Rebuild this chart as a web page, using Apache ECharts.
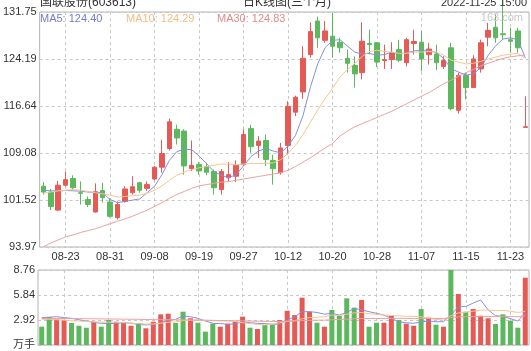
<!DOCTYPE html>
<html><head><meta charset="utf-8">
<script src="https://cdn.jsdelivr.net/npm/echarts@6/dist/echarts.min.js"></script>
<style>html,body{margin:0;padding:0;background:#fff}#c{width:531px;height:351px}</style>
</head><body><div id="c"></div>
<script>
const dates = ['08-18','08-19','08-22','08-23','08-24','08-25','08-26','08-29','08-30','08-31',
'09-01','09-02','09-05','09-06','09-07','09-08','09-09','09-13','09-14','09-15',
'09-16','09-19','09-20','09-21','09-22','09-23','09-26','09-27','09-28','09-29',
'09-30','10-10','10-11','10-12','10-13','10-14','10-17','10-18','10-19','10-20',
'10-21','10-24','10-25','10-26','10-27','10-28','10-31','11-01','11-02','11-03',
'11-04','11-07','11-08','11-09','11-10','11-11','11-14','11-15','11-16','11-17',
'11-18','11-21','11-22','11-23','11-24','11-25'];
const opens = [103.75,102.8,99.9,103.9,105.0,102.7,101.6,99.6,103.05,101.2,
98.7,101.3,102.7,104.3,103.4,104.9,106.8,109.8,112.9,112.6,
106.6,107.25,106.9,106.1,103.2,105.1,105.35,107.25,113.0,110.3,
111.1,107.9,105.9,110.3,115.65,118.9,124.9,130.3,127.2,127.85,
126.9,124.3,123.15,122.0,126.7,126.8,123.95,124.1,125.7,123.6,
126.7,126.9,124.9,125.0,123.0,126.0,115.95,121.55,119.6,122.6,
127.7,129.3,128.25,127.3,128.7,113.2];
const closes = [102.8,100.5,103.9,104.8,103.5,102.6,100.8,102.85,101.9,98.9,
100.8,103.3,103.65,103.1,104.0,106.8,109.0,114.1,111.5,107.0,
107.1,106.2,106.0,103.5,106.1,105.6,107.1,112.05,110.1,111.0,
108.05,106.55,109.9,116.6,118.05,124.3,128.6,127.6,128.7,126.25,
126.0,123.5,121.8,127.05,126.5,123.7,124.1,125.2,124.0,127.3,
127.0,124.2,125.8,123.6,123.95,116.2,121.55,119.6,124.2,126.8,
128.8,127.6,128.1,127.05,126.0,113.3];
const lows = [102.4,99.9,99.8,103.7,103.2,100.8,100.4,99.5,101.1,98.7,
98.4,101.1,102.4,102.7,103.0,104.7,105.9,109.5,110.45,105.6,
106.2,105.6,105.5,102.4,102.4,104.55,104.4,107.0,109.1,108.3,
107.0,104.0,105.6,108.8,115.0,117.8,124.4,126.0,126.8,124.4,
125.2,122.0,119.6,120.9,124.9,122.9,122.6,122.6,123.7,123.0,
124.9,122.2,123.3,122.4,122.6,115.95,115.4,117.7,119.6,122.0,
126.25,126.8,127.3,125.2,125.2,113.2];
const highs = [104.4,103.3,104.6,106.1,105.5,104.5,102.1,104.2,104.3,101.8,
101.3,103.75,105.35,104.45,104.5,107.0,111.2,114.6,113.65,112.9,
111.1,107.6,107.5,106.4,106.5,107.6,107.9,112.9,113.65,111.8,
112.05,108.8,110.7,117.4,118.3,126.25,130.1,131.0,130.3,131.6,
127.6,125.7,124.6,130.1,128.9,126.9,126.5,126.9,127.3,127.6,
128.9,128.7,126.8,126.5,124.65,126.8,122.0,122.0,124.8,127.3,
130.0,131.35,133.8,129.2,129.2,118.2];
const volumes = [2.14,3.27,3.0,2.92,2.57,2.25,2.02,2.72,2.14,2.92,
2.72,2.6,2.25,2.57,1.95,2.72,3.58,3.66,2.57,3.89,
3.12,2.6,1.56,2.49,2.14,2.49,2.72,3.31,2.02,1.87,
2.34,2.34,2.92,4.0,3.5,5.53,3.89,2.6,2.14,4.09,
3.39,5.45,4.36,5.26,2.14,2.6,2.6,3.39,2.92,2.49,
2.25,4.2,3.19,2.37,2.14,8.76,5.96,3.89,4.2,3.42,
3.12,2.45,3.58,2.84,2.02,7.86];
const ma5 = [103.1,103.0,103.0,103.05,103.0,102.95,102.8,102.75,102.7,101.6,
101.1,101.3,101.5,101.7,102.7,103.75,105.6,107.9,109.3,109.7,
109.6,108.6,107.4,106.1,105.5,105.1,105.6,107.0,108.5,109.4,
109.8,109.4,109.1,110.2,111.9,115.0,119.6,123.4,126.0,127.2,
127.3,126.3,125.3,125.0,125.1,124.8,124.9,125.3,125.0,125.2,
125.5,125.6,125.6,125.2,124.3,122.6,122.1,121.6,121.8,122.8,
124.8,126.3,127.4,127.6,127.3,124.40];
const ma10 = [102.6,102.8,103.0,103.1,103.2,103.1,102.9,102.7,102.5,102.3,
102.0,102.1,102.2,102.3,102.6,103.1,103.8,104.7,105.5,106.0,
106.4,106.7,106.9,107.1,107.3,107.3,107.2,107.3,107.4,107.4,
107.4,107.5,108.0,109.0,110.3,112.0,114.0,116.0,117.8,119.5,
121.3,122.5,123.5,124.6,125.4,125.6,125.4,125.3,125.1,125.1,
125.3,125.3,125.4,125.3,124.8,124.0,123.7,123.4,123.5,123.8,
124.2,124.5,124.8,125.0,125.1,124.29];
const ma30 = [94.0,94.6,95.1,95.6,95.9,96.3,96.6,96.9,97.3,97.7,
98.1,98.5,98.9,99.4,99.9,100.5,101.1,101.8,102.4,102.9,
103.4,103.8,104.0,104.2,104.4,104.5,104.7,104.9,105.1,105.3,
105.5,105.7,105.9,106.3,106.9,107.6,108.3,109.1,109.9,110.6,
111.8,112.6,113.3,113.8,114.3,114.8,115.3,115.8,116.4,117.0,
117.6,118.2,118.8,119.5,120.2,120.8,121.4,122.0,122.5,123.1,
123.5,123.9,124.3,124.55,124.7,124.83];
const volMa5 = [3.19,3.25,3.3,3.2,3.12,2.95,2.8,2.65,2.53,2.5,
2.53,2.6,2.55,2.4,2.34,2.4,2.6,2.92,3.0,3.39,
3.3,3.12,2.8,2.53,2.5,2.42,2.45,2.72,2.6,2.53,
2.5,2.42,2.45,2.92,3.3,3.89,3.9,3.8,3.6,3.7,
3.5,3.78,4.28,4.1,3.89,3.7,3.5,3.1,2.72,2.6,
2.53,2.7,2.8,2.72,2.72,3.5,4.47,4.5,4.9,5.26,
4.12,3.42,3.35,3.08,2.8,3.75];
const volMa10 = [3.0,3.0,2.95,2.9,2.85,2.8,2.75,2.7,2.68,2.66,
2.65,2.6,2.55,2.5,2.45,2.46,2.55,2.65,2.7,2.85,
2.89,2.9,2.85,2.85,2.8,2.81,2.75,2.6,2.5,2.4,
2.35,2.45,2.6,2.75,2.85,3.06,3.2,3.25,3.3,3.5,
3.44,3.6,3.75,3.8,3.65,3.59,3.5,3.45,3.4,3.35,
3.35,3.3,3.1,3.0,2.9,3.43,3.75,3.8,3.95,4.05,
4.1,4.0,4.05,3.95,3.8,3.93];
const volMa30 = [3.10,3.10,3.10,3.10,3.09,3.08,3.07,3.06,3.05,3.04,
3.03,3.02,3.01,3.00,2.98,2.96,2.95,2.95,2.94,2.94,
2.93,2.92,2.90,2.88,2.86,2.85,2.83,2.82,2.80,2.78,
2.76,2.75,2.75,2.78,2.80,2.85,2.88,2.90,2.90,2.95,
2.98,3.02,3.06,3.10,3.10,3.10,3.10,3.12,3.12,3.10,
3.08,3.10,3.12,3.10,3.08,3.20,3.28,3.30,3.32,3.34,
3.34,3.32,3.34,3.32,3.30,3.40];
const priceTickLabels = ['93.97','101.52','109.08','116.64','124.19','131.75'];
const volTickLabels = ['万手','2.92','5.84','8.76'];
const maNames = ['MA5','MA10','MA30'];
const maLast = ['124.40','124.29','124.83'];
const titleText = '国联股份(603613)';
const subTitle = '日K线图(三个月)';
const timeText = '2022-11-25 15:00';
const priceMin = 93.97, priceMax = 131.75, volMax = 8.76;

const UP = '#e55a55', DOWN = '#5cb85c';
const MA_COLORS = ['#8390e0', '#f6c68e', '#eea0a0'];
const MA_TEXT = ['#6f7fd0', '#f2bd80', '#e58a88'];
const FONT = '"Liberation Sans","Noto Sans CJK SC",sans-serif';
const showIdx = (i) => (i - 3) % 6 === 0;
const gridLine = {show: true, lineStyle: {color: '#c8c8c8', type: [3, 3], width: 1}};

const chart = echarts.init(document.getElementById('c'));
const xBase = (g, lbl) => ({
  type: 'category', gridIndex: g, data: dates, boundaryGap: true,
  axisLine: {show: false}, axisTick: {show: false},
  axisLabel: lbl ? {interval: (i) => showIdx(i), color: '#333', fontSize: 11, fontFamily: FONT, margin: 4} : {show: false},
  splitLine: {show: true, interval: (i) => showIdx(i), alignWithLabel: true, lineStyle: gridLine.lineStyle}
});
const lineSeries = (data, color, xi, yi) => ({
  type: 'line', data: data, xAxisIndex: xi, yAxisIndex: yi, showSymbol: false, symbol: 'none',
  lineStyle: {color: color, width: 1}, itemStyle: {color: color}, silent: true, z: 3
});
const txt = (text, x, y, color, align, size) => ({
  type: 'text', x: x, y: y, silent: true, z: 100,
  style: {text: text, fill: color, font: size + 'px ' + FONT, align: align, verticalAlign: 'middle',
    textAlign: align, textVerticalAlign: 'middle'}
});
const legendX = [40, 126, 217];
const graphics = [
  txt(titleText, 40, 3, '#333', 'left', 12),
  txt(subTitle, 287, 3, '#333', 'center', 12),
  txt(timeText, 527, 3, '#333', 'right', 11),
  txt('163.com', 523, 18, '#c8c8c8', 'right', 11)
];
maNames.forEach((n, k) => graphics.push(txt(n + ': ' + maLast[k], legendX[k], 19, MA_TEXT[k], 'left', 11)));

chart.setOption({
  animation: false,
  grid: [
    {left: 38, right: 2, top: 12, height: 235, show: true, borderColor: '#b4b4b4', borderWidth: 1},
    {left: 38, right: 2, top: 270, height: 75, show: true, borderColor: '#b4b4b4', borderWidth: 1}
  ],
  xAxis: [xBase(0, true), xBase(1, false)],
  yAxis: [
    {type: 'value', gridIndex: 0, min: priceMin, max: priceMax, show: false, splitLine: {show: false}},
    {type: 'value', gridIndex: 0, min: 0, max: 5, interval: 1, position: 'left',
      axisLine: {show: false}, axisTick: {show: false}, splitLine: gridLine,
      axisLabel: {formatter: (v) => priceTickLabels[Math.round(v)], color: '#333', fontSize: 11, fontFamily: FONT, margin: 3}},
    {type: 'value', gridIndex: 1, min: 0, max: volMax, show: false, splitLine: {show: false}},
    {type: 'value', gridIndex: 1, min: 0, max: 3, interval: 1, position: 'left',
      axisLine: {show: false}, axisTick: {show: false}, splitLine: gridLine,
      axisLabel: {formatter: (v) => volTickLabels[Math.round(v)], color: '#333', fontSize: 11, fontFamily: FONT, margin: 3}}
  ],
  graphic: graphics,
  series: [
    {type: 'candlestick', xAxisIndex: 0, yAxisIndex: 0, barWidth: 5, clip: false, silent: true,
      data: dates.map((d, i) => [opens[i], closes[i], lows[i], highs[i]]),
      itemStyle: {color: UP, color0: DOWN, borderColor: UP, borderColor0: DOWN, borderWidth: 1}},
    lineSeries(ma5, MA_COLORS[0], 0, 0),
    lineSeries(ma10, MA_COLORS[1], 0, 0),
    lineSeries(ma30, MA_COLORS[2], 0, 0),
    {type: 'bar', xAxisIndex: 1, yAxisIndex: 2, barWidth: 5, silent: true, data: volumes,
      itemStyle: {color: (p) => closes[p.dataIndex] >= opens[p.dataIndex] ? UP : DOWN}},
    lineSeries(volMa5, MA_COLORS[0], 1, 2),
    lineSeries(volMa10, MA_COLORS[1], 1, 2),
    lineSeries(volMa30, MA_COLORS[2], 1, 2)
  ]
});
</script></body></html>
